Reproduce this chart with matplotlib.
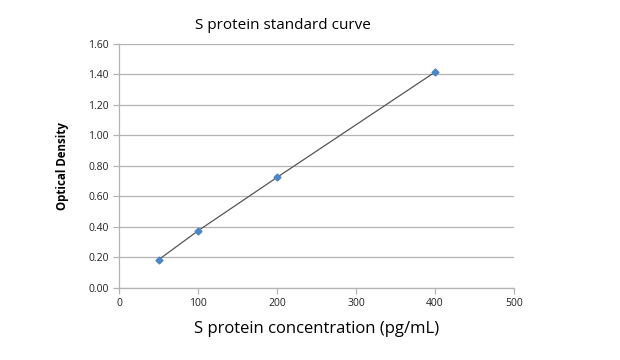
import matplotlib.pyplot as plt

plt.rcParams['font.family'] = ['Open Sans', 'DejaVu Sans']

# 标准曲线数据
concentration = [50, 100, 200, 400]
optical_density = [0.185, 0.375, 0.725, 1.415]

x_ticks = [0, 100, 200, 300, 400, 500]
y_ticks = [0.0, 0.2, 0.4, 0.6, 0.8, 1.0, 1.2, 1.4, 1.6]

fig = plt.figure(figsize=(6.2, 3.6), dpi=100)
ax = fig.add_axes([0.192, 0.2, 0.637, 0.678])

grid_color = '#b3b3b3'
ax.set_xlim(0, 500)
ax.set_ylim(0, 1.6)
ax.set_xticks(x_ticks)
ax.set_yticks(y_ticks)
ax.set_yticklabels([f"{v:.2f}" for v in y_ticks])
ax.yaxis.grid(True, color=grid_color, linewidth=0.9)
ax.set_axisbelow(True)

for side in ['top', 'right']:
    ax.spines[side].set_visible(False)
for side in ['left', 'bottom']:
    ax.spines[side].set_color(grid_color)
    ax.spines[side].set_linewidth(0.9)

ax.tick_params(axis='both', colors=grid_color, labelcolor='#222222',
               labelsize=7.5, length=4, width=0.9)

ax.plot(concentration, optical_density, '-', color='#555555', linewidth=0.9)
ax.plot(concentration, optical_density, 'D', color='#4a86c8', markersize=3.5)

# 标题位置略偏左，与原图一致
ax.set_title('S protein standard curve', fontsize=11, x=0.415, pad=11)
ax.set_xlabel('S protein concentration (pg/mL)', fontsize=12, labelpad=8)
ax.set_ylabel('Optical Density', fontsize=8.3, fontweight='bold', labelpad=14)

plt.savefig('out.png', dpi=100)
